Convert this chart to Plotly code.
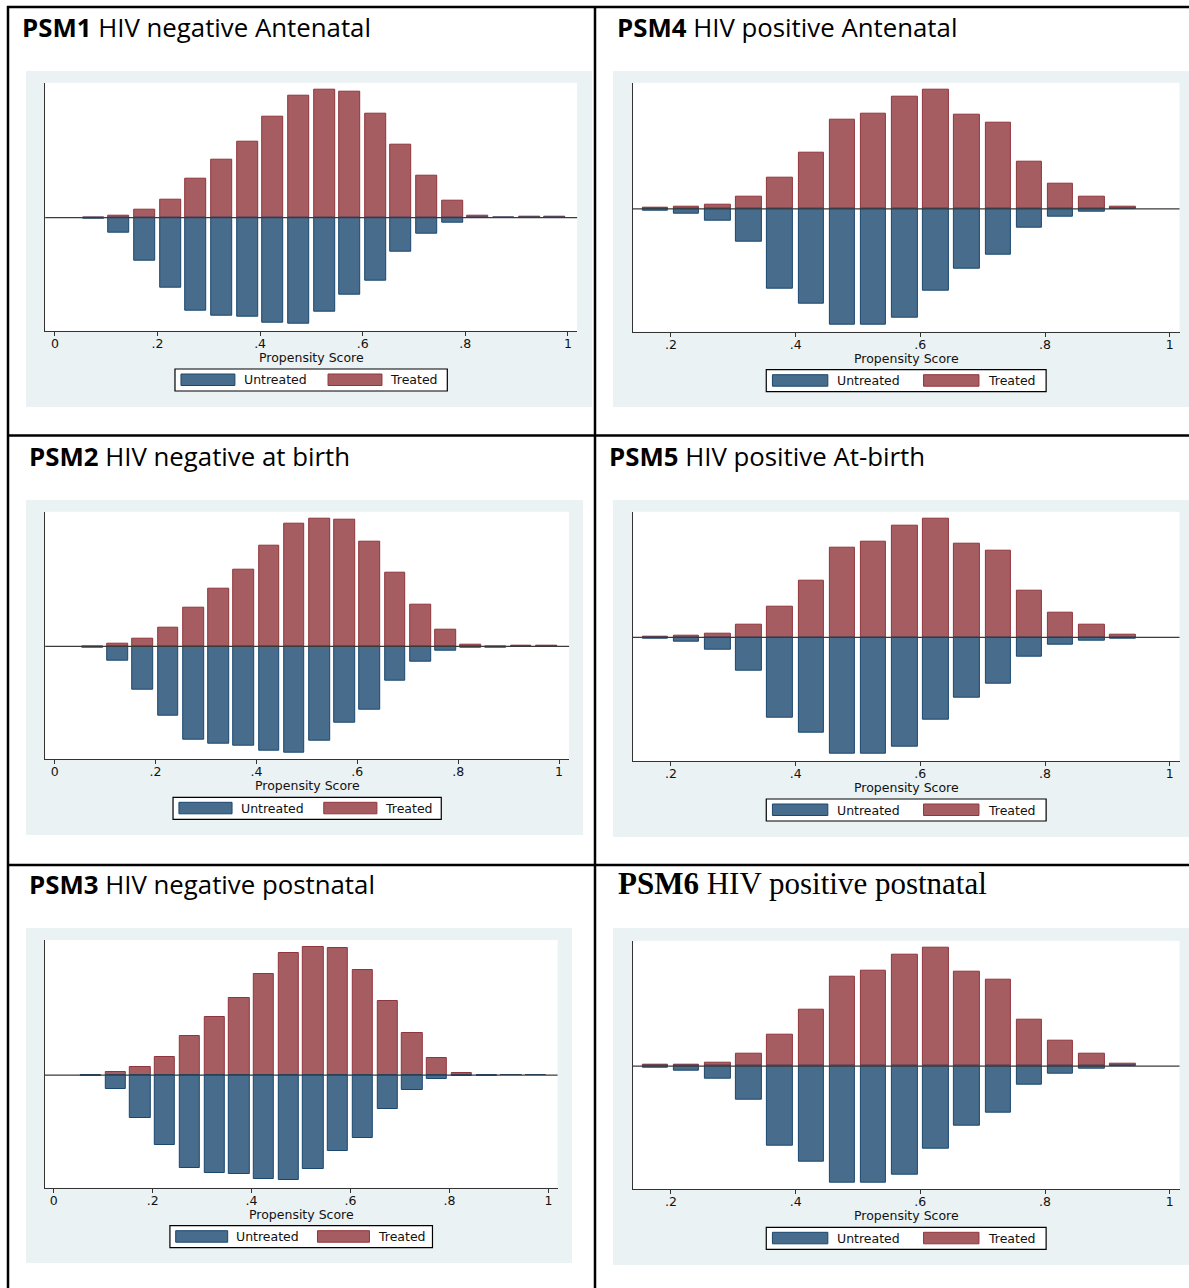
import plotly.graph_objects as go

# ---------------- data ----------------
TICK_VALS_NEG = [0, 0.2, 0.4, 0.6, 0.8, 1]
TICK_TEXT_NEG = ["0", ".2", ".4", ".6", ".8", "1"]
TICK_VALS_POS = [0.2, 0.4, 0.6, 0.8, 1]
TICK_TEXT_POS = [".2", ".4", ".6", ".8", "1"]

BINS_NEG = [0.075, 0.125, 0.175, 0.225, 0.275, 0.325, 0.375, 0.425, 0.475, 0.525,
            0.575, 0.625, 0.675, 0.725, 0.775, 0.825, 0.875, 0.925, 0.975]
BINS_POS = [0.175, 0.225, 0.275, 0.325, 0.375, 0.425, 0.475, 0.525, 0.575, 0.625,
            0.675, 0.725, 0.775, 0.825, 0.875, 0.925]

PSM1_TREATED = [0, 0.05, 0.17, 0.40, 0.84, 1.26, 1.66, 2.19, 2.66, 2.78, 2.75, 2.27, 1.60, 0.91, 0.36, 0.04, 0, 0.02, 0.02]
PSM1_UNTREATED = [0.02, 0.32, 0.94, 1.52, 2.03, 2.13, 2.16, 2.29, 2.30, 2.06, 1.67, 1.38, 0.75, 0.34, 0.10, 0.01, 0.01, 0, 0]

PSM2_TREATED = [0, 0.05, 0.17, 0.40, 0.84, 1.26, 1.66, 2.19, 2.66, 2.77, 2.75, 2.27, 1.61, 0.91, 0.37, 0.04, 0, 0.01, 0.01]
PSM2_UNTREATED = [0.03, 0.32, 0.94, 1.52, 2.03, 2.13, 2.16, 2.28, 2.31, 2.06, 1.67, 1.37, 0.75, 0.34, 0.10, 0.03, 0.03, 0, 0]

PSM3_TREATED = [0, 0.06, 0.17, 0.40, 0.85, 1.27, 1.67, 2.19, 2.66, 2.78, 2.76, 2.29, 1.61, 0.91, 0.37, 0.04, 0, 0.01, 0.01]
PSM3_UNTREATED = [0.03, 0.31, 0.93, 1.51, 2.02, 2.13, 2.16, 2.27, 2.29, 2.05, 1.66, 1.37, 0.74, 0.33, 0.09, 0.03, 0.01, 0, 0]

PSM4_TREATED = [0.03, 0.05, 0.10, 0.31, 0.79, 1.44, 2.28, 2.43, 2.85, 3.02, 2.40, 2.19, 1.19, 0.64, 0.31, 0.07]
PSM4_UNTREATED = [0.04, 0.12, 0.31, 0.83, 2.03, 2.41, 2.94, 2.94, 2.76, 2.09, 1.51, 1.16, 0.47, 0.19, 0.06, 0]

PSM5_TREATED = [0.02, 0.04, 0.09, 0.31, 0.79, 1.43, 2.27, 2.43, 2.84, 3.01, 2.39, 2.19, 1.19, 0.63, 0.31, 0.06]
PSM5_UNTREATED = [0.04, 0.12, 0.32, 0.84, 2.03, 2.42, 2.96, 2.95, 2.78, 2.09, 1.53, 1.18, 0.48, 0.19, 0.08, 0.03]

PSM6_TREATED = [0.03, 0.05, 0.10, 0.31, 0.80, 1.43, 2.27, 2.44, 2.84, 3.02, 2.40, 2.19, 1.19, 0.64, 0.31, 0.07]
PSM6_UNTREATED = [0.04, 0.11, 0.31, 0.84, 2.03, 2.42, 2.95, 2.95, 2.76, 2.09, 1.52, 1.17, 0.47, 0.19, 0.07, 0]

TITLE_IDS = ["PSM1", "PSM2", "PSM3", "PSM4", "PSM5", "PSM6"]
TITLE_TEXTS = ["HIV negative Antenatal", "HIV negative at birth", "HIV negative postnatal",
               "HIV positive Antenatal", "HIV positive At-birth", "HIV positive postnatal"]
LEGEND_LABELS = ["Untreated", "Treated"]
X_TITLE = "Propensity Score"

# ---------------- styling / layout ----------------
W, H = 1189, 1288
BG_GREY = "#EAF2F3"
BLUE_FILL, BLUE_LINE = "#486C8C", "#1A476F"
RED_FILL, RED_LINE = "#A65D62", "#90353B"
AXIS_COL = "#333333"
SANS = "DejaVu Sans"
TITLE_SANS = "Open Sans"
TITLE_SERIF = "Liberation Serif"


def px(x):
    return x / W


def py(y):
    return 1 - y / H


panels = [
    dict(tid=0, treated=PSM1_TREATED, untreated=PSM1_UNTREATED, bins=BINS_NEG,
         tv=TICK_VALS_NEG, tt=TICK_TEXT_NEG,
         title_xy=(20, 26.7), tfont=TITLE_SANS, tsize=25.8,
         grey=(26, 71, 592, 407), plot=(45.2, 82.7, 577.1, 331.0),
         xr=(-0.019, 1.018), yr=(-2.47, 2.94)),
    dict(tid=1, treated=PSM2_TREATED, untreated=PSM2_UNTREATED, bins=BINS_NEG,
         tv=TICK_VALS_NEG, tt=TICK_TEXT_NEG,
         title_xy=(27, 455.5), tfont=TITLE_SANS, tsize=25.8,
         grey=(26, 500, 583, 835), plot=(45.2, 511.7, 569.1, 759.3),
         xr=(-0.0188, 1.0199), yr=(-2.46, 2.93)),
    dict(tid=2, treated=PSM3_TREATED, untreated=PSM3_UNTREATED, bins=BINS_NEG,
         tv=TICK_VALS_NEG, tt=TICK_TEXT_NEG,
         title_xy=(27, 884), tfont=TITLE_SANS, tsize=25.8,
         grey=(26, 928, 572, 1263), plot=(44.8, 940.0, 557.6, 1187.7),
         xr=(-0.018, 1.0186), yr=(-2.45, 2.94)),
    dict(tid=3, treated=PSM4_TREATED, untreated=PSM4_UNTREATED, bins=BINS_POS,
         tv=TICK_VALS_POS, tt=TICK_TEXT_POS,
         title_xy=(614.7, 26.7), tfont=TITLE_SANS, tsize=25.8,
         grey=(613, 71, 1189, 407), plot=(632.9, 82.7, 1179.5, 331.7),
         xr=(0.139, 1.0157), yr=(-3.12, 3.21)),
    dict(tid=4, treated=PSM5_TREATED, untreated=PSM5_UNTREATED, bins=BINS_POS,
         tv=TICK_VALS_POS, tt=TICK_TEXT_POS,
         title_xy=(607, 455.5), tfont=TITLE_SANS, tsize=25.8,
         grey=(613, 500, 1189, 837), plot=(632.9, 511.7, 1179.5, 761.0),
         xr=(0.139, 1.0157), yr=(-3.14, 3.19)),
    dict(tid=5, treated=PSM6_TREATED, untreated=PSM6_UNTREATED, bins=BINS_POS,
         tv=TICK_VALS_POS, tt=TICK_TEXT_POS,
         title_xy=(615.5, 883.7), tfont=TITLE_SERIF, tsize=31,
         grey=(613, 928, 1189, 1265), plot=(632.9, 940.7, 1179.5, 1189.3),
         xr=(0.139, 1.0157), yr=(-3.13, 3.19)),
]

fig = go.Figure()
shapes = []
annotations = []
layout_axes = {}

for i, p in enumerate(panels):
    n = i + 1
    xname = "x" if n == 1 else f"x{n}"
    yname = "y" if n == 1 else f"y{n}"
    xkey = "xaxis" if n == 1 else f"xaxis{n}"
    ykey = "yaxis" if n == 1 else f"yaxis{n}"
    x0, y0, x1, y1 = p["plot"]

    # grey graph region
    gx0, gy0, gx1, gy1 = p["grey"]
    shapes.append(dict(type="rect", xref="paper", yref="paper",
                       x0=px(gx0), x1=px(gx1), y0=py(gy1), y1=py(gy0),
                       fillcolor=BG_GREY, line=dict(width=0), layer="below"))
    # white plot region
    shapes.append(dict(type="rect", xref=f"{xname} domain", yref=f"{yname} domain",
                       x0=0, x1=1, y0=0, y1=1, fillcolor="white",
                       line=dict(width=0), layer="below"))
    # zero line
    shapes.append(dict(type="line", xref=f"{xname} domain", yref=yname,
                       x0=0, x1=1, y0=0, y1=0,
                       line=dict(color="#3a3a3a", width=1.2), layer="above"))

    fig.add_trace(go.Bar(x=p["bins"], y=p["treated"], width=0.041,
                         marker=dict(color=RED_FILL, line=dict(color=RED_LINE, width=1)),
                         name=LEGEND_LABELS[1], showlegend=False,
                         xaxis=xname, yaxis=yname))
    fig.add_trace(go.Bar(x=p["bins"], y=[-v for v in p["untreated"]], width=0.041,
                         marker=dict(color=BLUE_FILL, line=dict(color=BLUE_LINE, width=1)),
                         name=LEGEND_LABELS[0], showlegend=False,
                         xaxis=xname, yaxis=yname))

    layout_axes[xkey] = dict(domain=[px(x0), px(x1)], range=list(p["xr"]),
                             anchor=yname, tickvals=p["tv"], ticktext=p["tt"],
                             ticks="outside", ticklen=4, tickwidth=1, tickcolor=AXIS_COL,
                             ticklabelstandoff=-3,
                             showline=True, linecolor=AXIS_COL, linewidth=1.3,
                             showgrid=False, zeroline=False, fixedrange=True,
                             tickfont=dict(family=SANS, size=12.5, color="#111111"))
    layout_axes[ykey] = dict(domain=[py(y1), py(y0)], range=list(p["yr"]),
                             anchor=xname, showticklabels=False, ticks="",
                             showline=True, linecolor=AXIS_COL, linewidth=1.3,
                             showgrid=False, zeroline=False, fixedrange=True)

    # title
    tx, ty = p["title_xy"]
    annotations.append(dict(xref="paper", yref="paper", x=px(tx), y=py(ty),
                            xanchor="left", yanchor="middle", showarrow=False,
                            text=f"<b>{TITLE_IDS[p['tid']]}</b> {TITLE_TEXTS[p['tid']]}",
                            font=dict(family=p["tfont"], size=p["tsize"], color="black")))

    # x-axis title
    cx = (x0 + x1) / 2
    pw = x1 - x0
    annotations.append(dict(xref="paper", yref="paper", x=px(cx), y=py(y1 + 26.5),
                            xanchor="center", yanchor="middle", showarrow=False,
                            text=X_TITLE, font=dict(family=SANS, size=12.5, color="#111111")))

    # legend (drawn manually to reproduce Stata's wide key swatches)
    lw = 0.512 * pw
    lx0 = cx - lw / 2
    shapes.append(dict(type="rect", xref="paper", yref="paper",
                       x0=px(lx0), x1=px(lx0 + lw), y0=py(y1 + 60), y1=py(y1 + 38),
                       fillcolor="white", line=dict(color="black", width=1.2), layer="above"))
    keys = [(0.022, 0.22, 0.252, BLUE_FILL, BLUE_LINE, LEGEND_LABELS[0]),
            (0.562, 0.76, 0.791, RED_FILL, RED_LINE, LEGEND_LABELS[1])]
    for a, b, t, fc, lc, lab in keys:
        shapes.append(dict(type="rect", xref="paper", yref="paper",
                           x0=px(lx0 + a * lw), x1=px(lx0 + b * lw),
                           y0=py(y1 + 54.5), y1=py(y1 + 43),
                           fillcolor=fc, line=dict(color=lc, width=1), layer="above"))
        annotations.append(dict(xref="paper", yref="paper", x=px(lx0 + t * lw - 2), y=py(y1 + 49),
                                xanchor="left", yanchor="middle", showarrow=False,
                                text=lab, font=dict(family=SANS, size=12.5, color="#111111")))

# table borders
BORDER = dict(color="black", width=2.5)
shapes += [
    dict(type="line", xref="paper", yref="paper", x0=px(7), x1=px(W), y0=py(7), y1=py(7), line=BORDER, layer="above"),
    dict(type="line", xref="paper", yref="paper", x0=px(8), x1=px(8), y0=py(6), y1=py(H), line=BORDER, layer="above"),
    dict(type="line", xref="paper", yref="paper", x0=px(595), x1=px(595), y0=py(6), y1=py(H), line=BORDER, layer="above"),
    dict(type="line", xref="paper", yref="paper", x0=px(7), x1=px(W), y0=py(435.5), y1=py(435.5), line=BORDER, layer="above"),
    dict(type="line", xref="paper", yref="paper", x0=px(7), x1=px(W), y0=py(865), y1=py(865), line=BORDER, layer="above"),
]

fig.update_layout(
    width=W, height=H, margin=dict(l=0, r=0, t=0, b=0),
    paper_bgcolor="white", plot_bgcolor="rgba(0,0,0,0)",
    barmode="overlay", bargap=0, showlegend=False,
    shapes=shapes, annotations=annotations,
    **layout_axes,
)

fig.write_html("out.html", config={"displayModeBar": False},
               post_script="document.body.style.margin='0';")
